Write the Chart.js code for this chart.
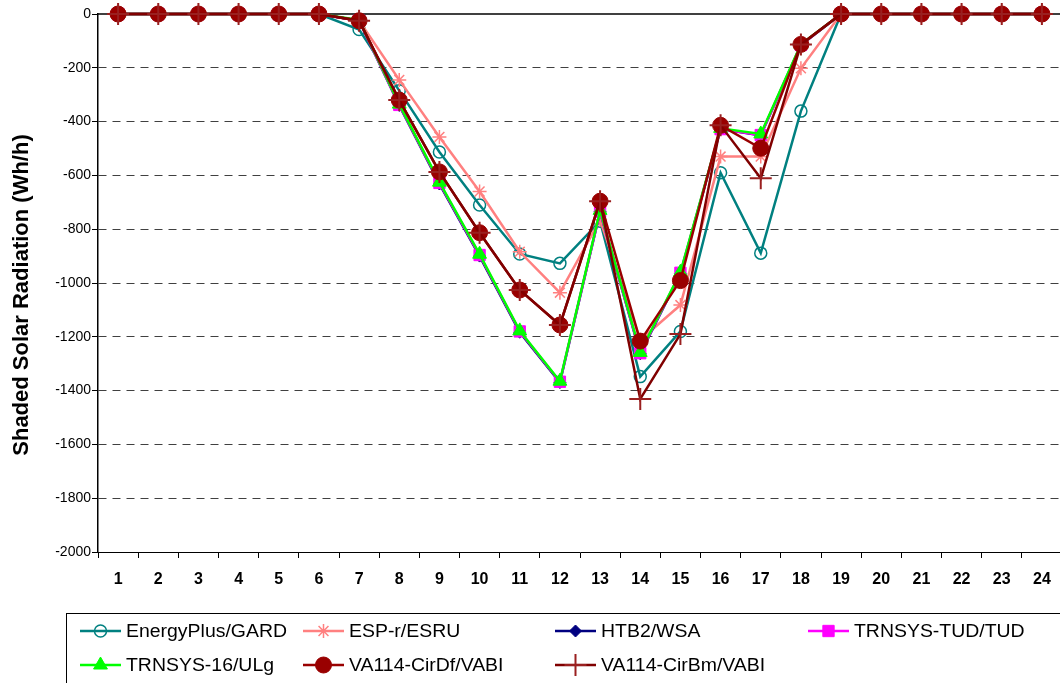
<!DOCTYPE html>
<html>
<head>
<meta charset="utf-8">
<script src="https://cdn.jsdelivr.net/npm/chart.js@4/dist/chart.umd.min.js"></script>
<style>
  html, body { margin: 0; padding: 0; background: #fff; overflow: hidden; }
  canvas { display: block; }
</style>
</head>
<body>
<canvas id="chart" width="1075" height="683"></canvas>
<script>
// hours of the day
const hours = ['1', '2', '3', '4', '5', '6', '7', '8', '9', '10', '11', '12',
  '13', '14', '15', '16', '17', '18', '19', '20', '21', '22', '23', '24'];

// shaded solar radiation per program (Wh/h)
const energyPlus = [0, 0, 0, 0, 0, 0, -58, -285, -513, -710, -892, -927, -770, -1348, -1180, -590, -889, -361, 0, 0, 0, 0, 0, 0];
const espR = [0, 0, 0, 0, 0, 0, -25, -245, -457, -660, -884, -1036, -765, -1212, -1082, -530, -530, -202, 0, 0, 0, 0, 0, 0];
const htb2 = [0, 0, 0, 0, 0, 0, -25, -340, -632, -900, -1183, -1370, -735, -1263, -966, -428, -451, -115, 0, 0, 0, 0, 0, 0];
const trnsysTud = [0, 0, 0, 0, 0, 0, -25, -338, -628, -896, -1180, -1367, -735, -1261, -962, -428, -450, -115, 0, 0, 0, 0, 0, 0];
const trnsys16 = [0, 0, 0, 0, 0, 0, -22, -335, -625, -893, -1178, -1365, -730, -1258, -960, -425, -446, -113, 0, 0, 0, 0, 0, 0];
const cirDf = [0, 0, 0, 0, 0, 0, -25, -320, -587, -813, -1026, -1156, -696, -1216, -991, -414, -499, -113, 0, 0, 0, 0, 0, 0];
const cirBm = [0, 0, 0, 0, 0, 0, -25, -320, -587, -813, -1026, -1156, -696, -1431, -1190, -414, -611, -113, 0, 0, 0, 0, 0, 0];

const seriesNames = ['EnergyPlus/GARD', 'ESP-r/ESRU', 'HTB2/WSA', 'TRNSYS-TUD/TUD',
  'TRNSYS-16/ULg', 'VA114-CirDf/VABI', 'VA114-CirBm/VABI'];
const seriesData = [energyPlus, espR, htb2, trnsysTud, trnsys16, cirDf, cirBm];

const yTitle = 'Shaded Solar Radiation (Wh/h)';

// look of each series: color, point style, radius, fill
const styles = [
  { color: '#008080', point: 'circle', r: 6, fill: 'rgba(0,0,0,0)', bw: 1.5 },
  { color: '#FF8080', point: 'star', r: 7, fill: '#FF8080', bw: 1.5 },
  { color: '#000080', point: 'rectRot', r: 6, fill: '#000080', bw: 1 },
  { color: '#FF00FF', point: 'rect', r: 8, fill: '#FF00FF', bw: 1 },
  { color: '#00FF00', point: 'triangle', r: 8, fill: '#00FF00', bw: 1 },
  { color: '#990000', point: 'circle', r: 8, fill: '#990000', bw: 1 },
  { color: '#800000', point: 'cross', r: 11, fill: '#9a2020', bw: 2, pointColor: '#9a2020' }
];

Chart.defaults.font.family = "'Liberation Sans', Arial, sans-serif";
Chart.defaults.color = '#000';

const datasets = seriesNames.map((name, i) => ({
  label: name,
  data: seriesData[i],
  borderColor: styles[i].color,
  borderWidth: 2.5,
  backgroundColor: styles[i].fill,
  pointStyle: styles[i].point,
  pointRadius: styles[i].r,
  pointHoverRadius: styles[i].r,
  pointBorderWidth: styles[i].bw,
  pointBorderColor: styles[i].pointColor || styles[i].color,
  pointBackgroundColor: styles[i].fill,
  tension: 0,
  clip: false,
  order: seriesNames.length - i // later series on top, like the original
}));

// solid black line on top of the plot (value 0) + rotated y title
const frameBits = {
  id: 'frameBits',
  beforeDatasetsDraw(chart) {
    const { ctx, chartArea } = chart;
    ctx.save();
    ctx.strokeStyle = '#000';
    ctx.lineWidth = 1.5;
    ctx.beginPath();
    ctx.moveTo(chartArea.left, chartArea.top);
    ctx.lineTo(chartArea.right, chartArea.top);
    ctx.stroke();
    ctx.translate(22, 295);
    ctx.rotate(-Math.PI / 2);
    ctx.fillStyle = '#000';
    ctx.font = "bold 22px 'Liberation Sans', Arial, sans-serif";
    ctx.textAlign = 'center';
    ctx.textBaseline = 'middle';
    ctx.fillText(yTitle, 0, 0);
    ctx.restore();
  }
};

// boxed legend, 4 columns
const boxLegend = {
  id: 'boxLegend',
  afterDraw(chart) {
    const ctx = chart.ctx;
    const cols = [80, 303, 555, 808];
    const rows = [631, 665];
    ctx.save();
    ctx.strokeStyle = '#000';
    ctx.lineWidth = 1;
    ctx.strokeRect(66.5, 613.5, 1100, 200);
    seriesNames.forEach((name, i) => {
      const x = cols[i % 4];
      const y = rows[Math.floor(i / 4)];
      const s = styles[i];
      ctx.strokeStyle = s.color;
      ctx.lineWidth = 2.5;
      ctx.beginPath();
      ctx.moveTo(x, y);
      ctx.lineTo(x + 41, y);
      ctx.stroke();
      ctx.strokeStyle = s.pointColor || s.color;
      ctx.fillStyle = s.fill;
      ctx.lineWidth = s.bw;
      Chart.helpers.drawPoint(ctx, { pointStyle: s.point, radius: s.r, rotation: 0, borderWidth: s.bw }, x + 20.5, y);
      ctx.fillStyle = '#000';
      ctx.font = "18px 'Liberation Sans', Arial, sans-serif";
      ctx.textBaseline = 'middle';
      ctx.save();
      ctx.translate(x + 46, y);
      ctx.scale(1.08, 1);
      ctx.fillText(name, 0, 1);
      ctx.restore();
    });
    ctx.restore();
  }
};

new Chart(document.getElementById('chart').getContext('2d'), {
  type: 'line',
  data: { labels: hours, datasets },
  options: {
    responsive: false,
    animation: false,
    events: [],
    layout: { padding: { left: 0, top: 14, right: 13, bottom: 91 } },
    plugins: {
      legend: { display: false },
      tooltip: { enabled: false }
    },
    scales: {
      x: {
        type: 'category',
        offset: true,
        afterFit: (s) => { s.height = 40; },
        grid: {
          offset: true,
          drawOnChartArea: false,
          tickLength: 6,
          tickColor: '#000'
        },
        border: { color: '#000', width: 1 },
        ticks: {
          font: { size: 16, weight: 'bold' },
          color: '#000',
          padding: 12,
          maxRotation: 0,
          autoSkip: false
        }
      },
      y: {
        min: -2000,
        max: 0,
        afterFit: (s) => { s.width = 98; },
        grid: {
          color: (c) => (c.tick && (c.tick.value === 0 || c.tick.value === -2000)) ? 'rgba(0,0,0,0)' : '#404040',
          lineWidth: 1,
          tickLength: 6,
          tickColor: '#000'
        },
        border: { color: '#000', width: 1.5, dash: [8, 6] },
        ticks: {
          stepSize: 200,
          font: { size: 14 },
          color: '#000',
          padding: 1,
          callback: (v) => String(v)
        }
      }
    }
  },
  plugins: [frameBits, boxLegend]
});
</script>
</body>
</html>
